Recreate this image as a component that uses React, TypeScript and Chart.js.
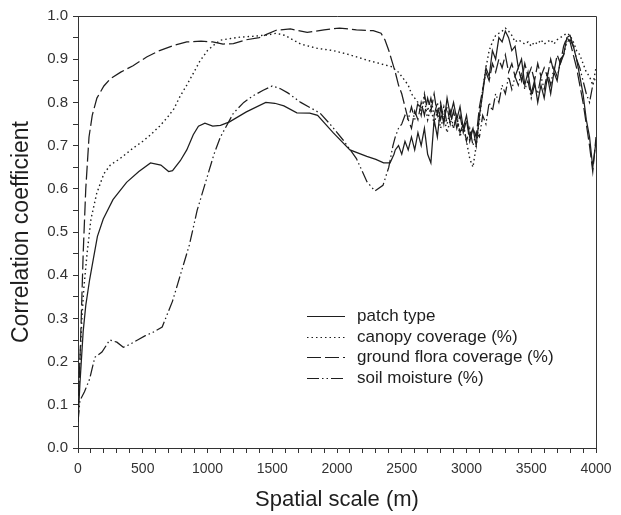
import { useEffect, useRef } from "react";
import { Chart, registerables } from "chart.js";

Chart.register(...registerables);

// ---------- DATA ----------
const seriesNames = [
  "patch type",
  "canopy coverage (%)",
  "ground flora coverage (%)",
  "soil moisture (%)",
];

// shared spatial scale for the noisy (large-scale) part, metres
const noisyScale = [
  2450, 2475, 2500, 2525, 2550, 2575, 2600, 2625, 2650, 2675, 2700, 2725, 2750,
  2775, 2800, 2825, 2850, 2875, 2900, 2925, 2950, 2975, 3000, 3025, 3050, 3075,
  3100, 3125, 3150, 3175, 3200, 3225, 3250, 3275, 3300, 3325, 3350, 3375, 3400,
  3425, 3450, 3475, 3500, 3525, 3550, 3575, 3600, 3625, 3650, 3675, 3700, 3725,
  3750, 3775, 3800, 3825, 3850, 3875, 3900, 3925, 3950, 3975, 4000,
];

// patch type
const patchScaleSmooth = [
  0, 15, 40, 60, 90, 120, 150, 195, 270, 375, 470, 560, 640, 700, 730, 790, 840,
  890, 930, 980, 1040, 1100, 1170, 1300, 1450, 1520, 1590, 1690, 1790, 1850,
  1970, 2100, 2230, 2300, 2360, 2410, 2440,
];
const patchSmooth = [
  0.06, 0.15, 0.27, 0.33, 0.39, 0.44, 0.49, 0.53, 0.575, 0.615, 0.64, 0.66,
  0.655, 0.64, 0.642, 0.665, 0.69, 0.725, 0.745, 0.752, 0.745, 0.747, 0.755,
  0.778, 0.8, 0.798, 0.792, 0.776, 0.775, 0.77, 0.73, 0.69, 0.675, 0.668, 0.66,
  0.66, 0.68,
];
const patchNoisy = [
  0.69, 0.7, 0.68, 0.71, 0.69, 0.72, 0.69, 0.73, 0.7, 0.74, 0.68, 0.66, 0.76,
  0.72, 0.79, 0.75, 0.81, 0.77, 0.8, 0.76, 0.79, 0.74, 0.77, 0.72, 0.74, 0.7,
  0.77, 0.82, 0.88, 0.86, 0.92, 0.9, 0.95, 0.94, 0.965, 0.95, 0.92, 0.93, 0.88,
  0.9, 0.84, 0.87, 0.82, 0.85, 0.8, 0.84, 0.81, 0.86, 0.82, 0.87, 0.85, 0.9,
  0.91, 0.95, 0.955, 0.93, 0.9, 0.86, 0.82, 0.76, 0.72, 0.65, 0.71,
];

// canopy coverage
const canopyScaleSmooth = [
  0, 15, 30, 45, 70, 100, 145, 200, 250, 325, 425, 500, 560, 630, 690, 740, 790,
  840, 890, 940, 1000, 1050, 1100, 1180, 1250, 1350, 1460, 1530, 1600, 1640,
  1720, 1850, 1970, 2100, 2230, 2330, 2430,
];
const canopySmooth = [
  0.1, 0.2, 0.3, 0.37, 0.45, 0.53, 0.59, 0.635, 0.655, 0.67, 0.694, 0.71, 0.725,
  0.745, 0.765, 0.785, 0.815, 0.84, 0.867, 0.895, 0.92, 0.933, 0.944, 0.948,
  0.951, 0.953, 0.956, 0.96, 0.955, 0.948, 0.935, 0.925, 0.92, 0.91, 0.898,
  0.89, 0.882,
];
const canopyNoisy = [
  0.875, 0.87, 0.86, 0.85, 0.84, 0.82, 0.81, 0.8, 0.78, 0.81, 0.76, 0.79, 0.75,
  0.78, 0.74, 0.77, 0.73, 0.76, 0.74, 0.77, 0.72, 0.75, 0.71, 0.67, 0.65, 0.7,
  0.76, 0.83, 0.88, 0.92, 0.94, 0.955, 0.96, 0.965, 0.972, 0.965, 0.955, 0.94,
  0.945, 0.94, 0.935, 0.94, 0.93, 0.94, 0.935, 0.945, 0.935, 0.94, 0.945, 0.935,
  0.945, 0.95, 0.955, 0.96, 0.955, 0.94, 0.92, 0.91, 0.89, 0.87, 0.86, 0.84,
  0.88,
];

// ground flora coverage
const floraScaleSmooth = [
  0, 20, 40, 60, 85, 110, 146, 200, 250, 330, 425, 530, 630, 740, 840, 950,
  1040, 1120, 1200, 1300, 1400, 1460, 1530, 1640, 1770, 1900, 2020, 2150, 2280,
  2340, 2370, 2400, 2425,
];
const floraSmooth = [
  0.08, 0.25, 0.45, 0.6, 0.72, 0.77, 0.81, 0.838, 0.855, 0.87, 0.885, 0.905,
  0.92, 0.932, 0.94, 0.942, 0.94, 0.935, 0.936, 0.945, 0.95, 0.958, 0.967, 0.97,
  0.962, 0.968, 0.972, 0.968, 0.966, 0.96, 0.945, 0.92, 0.895,
];
const floraNoisy = [
  0.87, 0.84, 0.82, 0.79, 0.76, 0.74, 0.78, 0.76, 0.8, 0.77, 0.81, 0.78, 0.82,
  0.77, 0.8, 0.76, 0.79, 0.75, 0.78, 0.74, 0.77, 0.73, 0.76, 0.71, 0.74, 0.72,
  0.79, 0.83, 0.87, 0.85, 0.89, 0.87, 0.9, 0.88, 0.91, 0.87, 0.89, 0.86, 0.88,
  0.85, 0.89, 0.86, 0.88, 0.85, 0.89, 0.86, 0.88, 0.86, 0.9, 0.87, 0.91, 0.89,
  0.93, 0.95, 0.94, 0.91, 0.88, 0.84, 0.8, 0.75, 0.7, 0.64, 0.72,
];

// soil moisture
const soilScaleSmooth = [
  0, 15, 50, 90, 130, 185, 245, 300, 350, 400, 460, 520, 580, 650, 690, 730,
  770, 820, 860, 920, 1000, 1050, 1100, 1200, 1280, 1350, 1430, 1500, 1560,
  1620, 1720, 1870, 1960, 2047, 2150, 2232, 2293, 2355, 2400, 2432,
];
const soilSmooth = [
  0.06, 0.11, 0.13, 0.16, 0.21, 0.222, 0.25, 0.245, 0.233, 0.24, 0.25, 0.26,
  0.268, 0.28, 0.31, 0.34, 0.38, 0.43, 0.47, 0.55, 0.63, 0.68, 0.72, 0.775, 0.8,
  0.815, 0.828, 0.838, 0.832, 0.822, 0.8, 0.775, 0.745, 0.713, 0.67, 0.616,
  0.595, 0.608, 0.65, 0.7,
];
const soilNoisy = [
  0.72, 0.74, 0.75, 0.77, 0.76, 0.79, 0.76, 0.8, 0.77, 0.82, 0.78, 0.81, 0.77,
  0.8, 0.76, 0.79, 0.75, 0.78, 0.74, 0.77, 0.73, 0.75, 0.71, 0.74, 0.7, 0.73,
  0.72, 0.77, 0.75, 0.8, 0.78, 0.82, 0.8, 0.84, 0.82, 0.86, 0.83, 0.86, 0.84,
  0.87, 0.83, 0.85, 0.81, 0.84, 0.82, 0.86, 0.83, 0.87, 0.84, 0.88, 0.86, 0.89,
  0.91, 0.94, 0.945, 0.93, 0.9, 0.88, 0.85, 0.82, 0.8, 0.84, 0.86,
];

const xMin = 0;
const xMax = 4000;
const xMinorStep = 100;
const xLabelStep = 500;
const yMin = 0;
const yMax = 1;
const yMinorStep = 0.05;

// ---------- STYLE ----------
const FONT = "'Liberation Sans', Arial, Helvetica, sans-serif";
const INK = "#1e1e1e";
const AXIS = "#333";
const dashes: number[][] = [
  [],
  [1.5, 3],
  [14, 4],
  [12, 3, 1.5, 3, 1.5, 3],
];

function toPoints(xs: number[], ys: number[]) {
  return xs.map((x, i) => ({ x, y: ys[i] }));
}

const frameAndLegend = {
  id: "frameAndLegend",
  afterDraw(chart: any) {
    const { ctx, chartArea } = chart;
    const { left, right, top, bottom } = chartArea;
    ctx.save();
    ctx.strokeStyle = AXIS;
    ctx.lineWidth = 1;
    ctx.setLineDash([]);
    ctx.beginPath();
    ctx.moveTo(left, top + 0.5);
    ctx.lineTo(right + 0.5, top + 0.5);
    ctx.lineTo(right + 0.5, bottom);
    ctx.stroke();

    const lx0 = 307;
    const lx1 = 345;
    const tx = 357;
    const y0 = 316;
    const dy = 20.7;
    ctx.font = `17px ${FONT}`;
    ctx.textBaseline = "middle";
    ctx.textAlign = "left";
    chart.data.datasets.forEach((ds: any, i: number) => {
      const y = Math.round(y0 + i * dy) + 0.5;
      ctx.strokeStyle = INK;
      ctx.lineWidth = 1.2;
      ctx.setLineDash(ds.borderDash || []);
      ctx.beginPath();
      ctx.moveTo(lx0, y);
      ctx.lineTo(lx1, y);
      ctx.stroke();
      ctx.setLineDash([]);
      ctx.fillStyle = INK;
      ctx.fillText(ds.label, tx, y);
    });
    ctx.restore();
  },
};

export default function App() {
  const ref = useRef<HTMLCanvasElement | null>(null);

  useEffect(() => {
    if (!ref.current) return;
    const xsList = [
      [...patchScaleSmooth, ...noisyScale],
      [...canopyScaleSmooth, ...noisyScale],
      [...floraScaleSmooth, ...noisyScale],
      [...soilScaleSmooth, ...noisyScale],
    ];
    const ysList = [
      [...patchSmooth, ...patchNoisy],
      [...canopySmooth, ...canopyNoisy],
      [...floraSmooth, ...floraNoisy],
      [...soilSmooth, ...soilNoisy],
    ];
    const chart = new Chart(ref.current, {
      type: "line",
      data: {
        datasets: seriesNames.map((name, i) => ({
          label: name,
          data: toPoints(xsList[i], ysList[i]),
          borderColor: INK,
          borderWidth: i === 1 ? 1.4 : 1.25,
          borderDash: dashes[i],
          pointRadius: 0,
          tension: 0,
          fill: false,
        })),
      },
      options: {
        animation: false,
        responsive: false,
        maintainAspectRatio: false,
        events: [],
        layout: { padding: { left: 0, right: 25, top: 16, bottom: 0 } },
        plugins: {
          legend: { display: false },
          tooltip: { enabled: false },
        },
        scales: {
          x: {
            type: "linear",
            min: xMin,
            max: xMax,
            afterFit: (s: any) => {
              s.height = 67;
            },
            ticks: {
              stepSize: xMinorStep,
              autoSkip: false,
              maxRotation: 0,
              padding: 8,
              color: AXIS,
              font: { family: FONT, size: 14 },
              callback: (v: any) =>
                Math.round(v) % xLabelStep === 0 ? String(Math.round(v)) : "",
            },
            grid: {
              display: true,
              drawOnChartArea: false,
              drawTicks: true,
              tickLength: 5,
              color: AXIS,
              lineWidth: 1,
            },
            border: { display: true, color: AXIS, width: 1 },
            title: {
              display: true,
              text: "Spatial scale (m)",
              color: INK,
              font: { family: FONT, size: 22 },
              padding: { top: 0, bottom: 2 },
            },
          },
          y: {
            type: "linear",
            min: yMin,
            max: yMax,
            afterFit: (s: any) => {
              s.width = 78;
            },
            ticks: {
              stepSize: yMinorStep,
              autoSkip: false,
              padding: 5,
              color: AXIS,
              font: { family: FONT, size: 15 },
              callback: (v: any) =>
                Math.round(v * 100) % 10 === 0 ? Number(v).toFixed(1) : "",
            },
            grid: {
              display: true,
              drawOnChartArea: false,
              drawTicks: true,
              tickLength: 5,
              color: AXIS,
              lineWidth: 1,
            },
            border: { display: true, color: AXIS, width: 1 },
            title: {
              display: true,
              text: "Correlation coefficient",
              color: INK,
              font: { family: FONT, size: 23 },
              padding: { top: 8, bottom: 0 },
            },
          },
        },
      },
      plugins: [frameAndLegend],
    } as any);
    return () => chart.destroy();
  }, []);

  return (
    <div
      style={{
        position: "fixed",
        left: 0,
        top: 0,
        width: 621,
        height: 515,
        background: "#fff",
      }}
    >
      <canvas
        ref={ref}
        width={621}
        height={515}
        style={{ display: "block", width: 621, height: 515 }}
      />
    </div>
  );
}
